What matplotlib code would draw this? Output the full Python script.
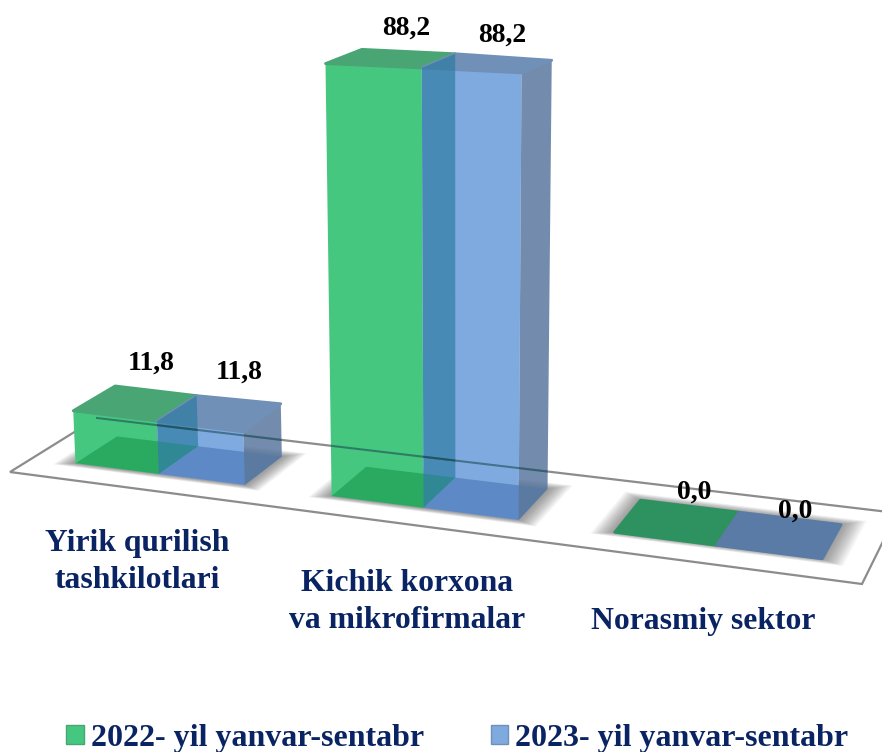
import numpy as np
import matplotlib
matplotlib.use('Agg')
import matplotlib.pyplot as plt
from matplotlib.patches import Patch, Polygon

categories = ['Yirik qurilish\ntashkilotlari', 'Kichik korxona\nva mikrofirmalar', 'Norasmiy sektor']
series_names = ['2022- yil yanvar-sentabr', '2023- yil yanvar-sentabr']
values_2022 = [11.8, 88.2, 0.0]
values_2023 = [11.8, 88.2, 0.0]

NAVY = '#0A2463'
SERIF = 'Liberation Serif'

# colours of each bar: front, floor, top, top when the value is 0
GREEN = dict(front='#46C77F', floor='#1F9F55', top='#4AA574', flat='#2E9160')
BLUE = dict(front='#7FAAE0', floor='#4F7DBB', top='#7090B8', flat='#5A7BA6')
WALL_MID = '#2A7A9F'
WALL_RIGHT = '#5A789F'

# oblique view: the floor of the chart seen in perspective, in pixels
FLOOR_CORNERS = [(10, 472), (862, 584), (897, 513), (97, 418)]
V_FRONT, V_BACK = 0.25, 0.74
BAR_W = 0.112
U_SHIFT = 0.004

uv = [(0, 0), (1, 0), (1, 1), (0, 1)]
rows, rhs = [], []
for (u, v), (x, y) in zip(uv, FLOOR_CORNERS):
    rows.append([u, v, 1, 0, 0, 0, -u * x, -v * x])
    rows.append([0, 0, 0, u, v, 1, -u * y, -v * y])
    rhs += [x, y]
H = np.append(np.linalg.solve(np.array(rows, float), np.array(rhs, float)), 1).reshape(3, 3)


def project(u, v, z=0):
    x, y, w = H @ np.array([u, v, 1.0])
    x, y = x / w, y / w
    # height scale depends on place in the view, verticals lean away from the centre
    k = np.interp(x, [75, 246, 333, 520], [4.45, 4.49, 4.91, 5.07])
    h = z * k * (1 - 0.085 * (v - V_FRONT))
    return x + (x - 459) / 9000 * h, y - h


def face(ax, pts, color, alpha=1.0, z=3, round_edge=False):
    p = Polygon(pts, closed=True, facecolor=color, edgecolor=color if round_edge else 'none',
                lw=2 if round_edge else 0, joinstyle='round', alpha=alpha, zorder=z)
    ax.add_patch(p)
    return p


def draw_bar(ax, u0, val, col, side_wall):
    u1 = u0 + BAR_W
    fbl, fbr = project(u0, V_FRONT), project(u1, V_FRONT)
    bbl, bbr = project(u0, V_BACK), project(u1, V_BACK)
    ftl, ftr = project(u0, V_FRONT, val), project(u1, V_FRONT, val)
    btl, btr = project(u0, V_BACK, val), project(u1, V_BACK, val)

    if val == 0:
        face(ax, [fbl, fbr, bbr, bbl], col['flat'], round_edge=True)
        return

    face(ax, [fbl, fbr, ftr, ftl], col['front'])
    face(ax, [fbl, fbr, bbr, bbl], col['floor'], 0.7, 4)
    if side_wall:
        face(ax, [fbr, bbr, btr, ftr], WALL_RIGHT, 0.85, 4)
    face(ax, [ftl, ftr, btr, btl], col['top'], 1.0, 4, round_edge=True)

    # the back edge of the floor shows through the bar
    clip = Polygon([fbl, fbr, bbr, btr, btl, ftl], closed=True, transform=ax.transData)
    xs, ys = zip(project(0, 1), project(1, 1))
    ln, = ax.plot(xs, ys, color='#1E4B55', lw=1.5, alpha=0.6, zorder=6)
    ln.set_clip_path(clip)


def draw_shadow(ax, u0, u1):
    # soft halo from many faint layers
    for m in np.linspace(0.024, 0.001, 24):
        mv = m * 4
        pts = [project(u0 - m, V_FRONT - mv * 0.6), project(u1 + m, V_FRONT - mv * 0.6),
               project(u1 + m, V_BACK + mv), project(u0 - m, V_BACK + mv)]
        face(ax, pts, '#444444', 0.028, 2.5)


fig = plt.figure(figsize=(8.82, 7.52), dpi=100)
ax = fig.add_axes([0, 0, 1, 1])
ax.set_xlim(0, 882)
ax.set_ylim(752, 0)
ax.axis('off')

# floor outline
corners = [project(0, 0), project(1, 0), project(1, 1), project(0, 1)]
ax.add_patch(Polygon(corners, closed=True, facecolor='white', edgecolor='#8C8C8C', lw=1.6, zorder=2))

label_offsets = [[(-4, -28), (1, -28)], [(-2, -23), (-1, -21)], [(5, -14), (6, -7)]]

for i in range(len(categories)):
    centre = (i + 0.5) / len(categories) + U_SHIFT
    draw_shadow(ax, centre - BAR_W, centre + BAR_W)
for i in range(len(categories)):
    centre = (i + 0.5) / len(categories) + U_SHIFT
    draw_bar(ax, centre - BAR_W, values_2022[i], GREEN, False)
    draw_bar(ax, centre, values_2023[i], BLUE, True)
    if values_2023[i] > 0:
        # shared wall between the two bars, drawn over both
        pts = [project(centre, V_FRONT), project(centre, V_BACK),
               project(centre, V_BACK, values_2023[i]), project(centre, V_FRONT, values_2023[i])]
        face(ax, pts, WALL_MID, 0.65, 5)
    for j, vals in enumerate([values_2022, values_2023]):
        px, py = project(centre - BAR_W + (j + 0.5) * BAR_W, V_BACK, vals[i])
        dx, dy = label_offsets[i][j]
        ax.text(px + dx, py + dy, f'{vals[i]:.1f}'.replace('.', ','), family=SERIF, weight='bold',
                fontsize=20, color='black', ha='center', va='center', zorder=7)

cat_pos = [(137, 562), (407, 602), (703, 621)]
for name, (x, y) in zip(categories, cat_pos):
    ax.text(x, y, name, family=SERIF, weight='bold', fontsize=22.8, color=NAVY,
            ha='center', va='center', linespacing=1.35)

handles = [Patch(facecolor=GREEN['front'], edgecolor=GREEN['top'], label=series_names[0]),
           Patch(facecolor=BLUE['front'], edgecolor=BLUE['top'], label=series_names[1])]
ax.legend(handles=handles, ncol=2, loc='lower left', bbox_to_anchor=(66, 753), bbox_transform=ax.transData,
          frameon=False, handlelength=0.55, handleheight=0.55, handletextpad=0.22, columnspacing=2.1,
          borderpad=0, borderaxespad=0, labelcolor=NAVY,
          prop={'family': SERIF, 'weight': 'bold', 'size': 23})

fig.savefig('out.png', dpi=100)
